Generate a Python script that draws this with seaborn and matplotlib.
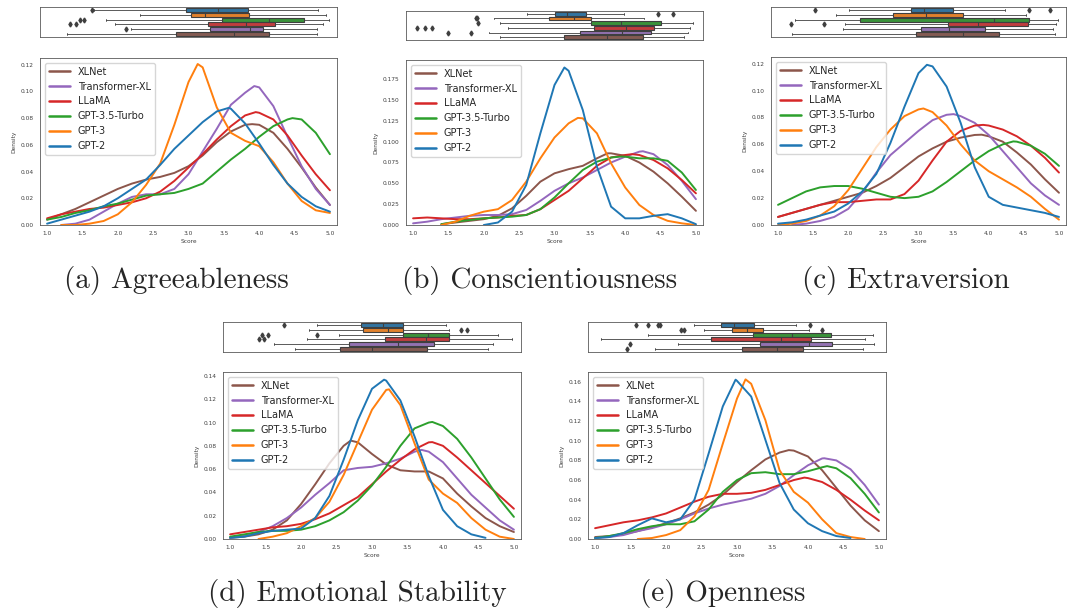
import matplotlib
matplotlib.use('Agg')
import matplotlib.pyplot as plt
import seaborn as sns
import pandas as pd

# models, in legend order and in box (top to bottom) order
MODELS = ['XLNet', 'Transformer-XL', 'LLaMA', 'GPT-3.5-Turbo', 'GPT-3', 'GPT-2']
BOX_ORDER = ['GPT-2', 'GPT-3', 'GPT-3.5-Turbo', 'LLaMA', 'Transformer-XL', 'XLNet']
TRAITS = ['Agreeableness', 'Conscientiousness', 'Extraversion', 'Emotional Stability', 'Openness']

SCORES = [1.0, 1.2, 1.4, 1.6, 1.8, 2.0, 2.2, 2.4, 2.6, 2.8, 3.0,
          3.2, 3.4, 3.6, 3.8, 4.0, 4.2, 4.4, 4.6, 4.8, 5.0]

#region density values (None = curve not drawn there)

AGR_DENSITY = {
  'XLNet':          [.004, .008, .012, .017, .022, .027, .031, .034, .036, .039, .044, .052, .062, .070, .075, .075, .069, .057, .043, .028, .015],
  'Transformer-XL': [None, .000, .001, .004, .010, .016, .021, .023, .023, .027, .038, .055, .072, .090, .099, .103, .089, .066, .044, .027, .015],
  'LLaMA':          [.005, .008, .010, .012, .013, .015, .017, .020, .025, .033, .043, .053, .064, .074, .082, .084, .079, .067, .052, .038, .026],
  'GPT-3.5-Turbo':  [.004, .006, .009, .011, .014, .016, .019, .022, .023, .024, .027, .031, .040, .049, .057, .066, .074, .079, .079, .069, .053],
  'GPT-3':          [None, .000, .000, .001, .003, .008, .017, .030, .046, .075, .107, .118, .088, .069, .063, .059, .047, .031, .018, .011, .009],
  'GPT-2':          [.001, .004, .007, .010, .014, .020, .027, .034, .045, .057, .067, .077, .085, .087, .076, .061, .045, .031, .021, .014, .010],
}
AGR_PEAKS = {'XLNet': (3.9, .0755), 'Transformer-XL': (3.93, .104), 'LLaMA': (3.95, .0845),
             'GPT-3.5-Turbo': (4.47, .080), 'GPT-3': (3.13, .1205), 'GPT-2': (3.57, .0877)}

CON_DENSITY = {
  'XLNet':          [None, None, .001, .003, .005, .007, .011, .020, .035, .052, .062, .067, .071, .080, .086, .083, .075, .064, .050, .034, .017],
  'Transformer-XL': [.002, .004, .007, .009, .011, .012, .012, .013, .018, .029, .041, .050, .057, .066, .075, .082, .088, .085, .072, .053, .031],
  'LLaMA':          [.008, .009, .008, .007, .007, .008, .009, .011, .012, .019, .030, .041, .056, .071, .081, .084, .084, .078, .068, .054, .038],
  'GPT-3.5-Turbo':  [None, None, .001, .004, .006, .008, .009, .010, .012, .019, .033, .050, .066, .076, .081, .082, .080, .080, .077, .063, .042],
  'GPT-3':          [None, None, .000, .004, .011, .016, .019, .030, .052, .080, .105, .122, .128, .110, .074, .045, .024, .012, .005, .002, .000],
  'GPT-2':          [None, None, None, None, None, .000, .003, .016, .048, .110, .168, .185, .138, .070, .022, .008, .008, .011, .013, .008, .001],
}
CON_PEAKS = {'XLNet': (3.75, .086), 'Transformer-XL': (4.25, .0885), 'LLaMA': (4.1, .085),
             'GPT-3.5-Turbo': (3.95, .0822), 'GPT-3': (3.33, .1285), 'GPT-2': (3.14, .189)}

EXT_DENSITY = {
  'XLNet':          [.006, .009, .012, .015, .018, .021, .024, .029, .035, .043, .051, .057, .062, .065, .067, .066, .062, .054, .045, .034, .024],
  'Transformer-XL': [None, .000, .001, .003, .006, .012, .024, .039, .052, .061, .070, .078, .082, .081, .076, .067, .055, .043, .031, .022, .015],
  'LLaMA':          [.006, .009, .012, .015, .017, .017, .018, .019, .019, .023, .033, .048, .062, .070, .074, .074, .071, .066, .059, .050, .039],
  'GPT-3.5-Turbo':  [.015, .020, .025, .028, .029, .029, .027, .024, .021, .020, .021, .025, .032, .040, .048, .055, .060, .062, .059, .053, .044],
  'GPT-3':          [.000, .001, .003, .007, .014, .026, .042, .058, .071, .081, .086, .084, .074, .060, .048, .040, .034, .028, .021, .012, .004],
  'GPT-2':          [.001, .002, .004, .007, .010, .016, .025, .038, .061, .088, .113, .118, .103, .076, .043, .021, .015, .013, .011, .009, .006],
}
EXT_PEAKS = {'XLNet': (3.9, .0672), 'Transformer-XL': (3.5, .0825), 'LLaMA': (3.92, .0745),
             'GPT-3.5-Turbo': (4.35, .0622), 'GPT-3': (3.07, .0867), 'GPT-2': (3.12, .1192)}

EMO_DENSITY = {
  'XLNet':          [.001, .002, .004, .008, .016, .030, .047, .065, .080, .083, .073, .064, .059, .058, .058, .052, .039, .028, .018, .011, .006],
  'Transformer-XL': [.001, .003, .006, .011, .018, .027, .038, .048, .059, .061, .062, .065, .069, .075, .075, .066, .052, .038, .027, .016, .008],
  'LLaMA':          [.004, .006, .008, .010, .011, .013, .017, .022, .029, .036, .047, .058, .068, .077, .083, .080, .070, .059, .048, .037, .026],
  'GPT-3.5-Turbo':  [.002, .004, .006, .007, .007, .008, .011, .016, .023, .033, .046, .062, .080, .095, .100, .097, .086, .070, .052, .034, .019],
  'GPT-3':          [None, None, .000, .002, .005, .011, .018, .032, .055, .083, .111, .128, .115, .082, .051, .039, .031, .018, .008, .002, .000],
  'GPT-2':          [.001, .002, .005, .007, .008, .009, .018, .037, .068, .102, .129, .136, .119, .088, .054, .025, .011, .004, .001, None, None],
}
EMO_PEAKS = {'XLNet': (2.7, .0845), 'Transformer-XL': (3.7, .0765), 'LLaMA': (3.85, .0832),
             'GPT-3.5-Turbo': (3.85, .1005), 'GPT-3': (3.24, .1285), 'GPT-2': (3.17, .1368)}

OPE_DENSITY = {
  'XLNet':          [.002, .003, .005, .008, .012, .016, .021, .027, .035, .045, .058, .070, .081, .088, .090, .084, .070, .052, .034, .019, .008],
  'Transformer-XL': [.001, .002, .004, .008, .011, .015, .020, .026, .031, .035, .038, .041, .046, .054, .065, .075, .082, .080, .071, .055, .035],
  'LLaMA':          [.011, .014, .017, .019, .022, .026, .032, .038, .043, .046, .046, .047, .050, .055, .060, .062, .058, .050, .040, .029, .019],
  'GPT-3.5-Turbo':  [.001, .003, .006, .010, .013, .015, .015, .018, .030, .048, .060, .067, .068, .066, .066, .069, .073, .072, .062, .046, .027],
  'GPT-3':          [None, None, None, .000, .001, .004, .009, .023, .050, .097, .143, .158, .121, .070, .048, .037, .020, .006, .002, .000, None],
  'GPT-2':          [.001, .002, .006, .014, .021, .017, .020, .040, .087, .135, .161, .145, .101, .057, .030, .016, .008, .003, .001, None, None],
}
OPE_PEAKS = {'XLNet': (3.73, .0905), 'Transformer-XL': (4.23, .0822), 'LLaMA': (3.95, .0625),
             'GPT-3.5-Turbo': (4.27, .0742), 'GPT-3': (3.12, .1625), 'GPT-2': (2.98, .1622)}

#endregion

#region box plot summaries: [whisker low, q1, median, q3, whisker high], rows in BOX_ORDER

AGR_BOX = [[1.66, 2.97, 3.42, 3.84, 4.83], [2.32, 3.04, 3.24, 3.86, 4.94], [1.84, 3.48, 4.14, 4.64, 4.98],
           [1.96, 3.28, 3.82, 4.23, 4.90], [2.19, 3.31, 3.87, 4.06, 4.82], [1.28, 2.83, 3.65, 4.14, 4.82]]
AGR_FLIERS = [[1.63], [], [1.47, 1.52], [1.32, 1.41], [2.11], []]

CON_BOX = [[2.61, 3.01, 3.17, 3.45, 3.98], [2.15, 2.92, 3.27, 3.52, 4.26], [2.23, 3.51, 3.94, 4.51, 4.96],
           [2.34, 3.56, 4.01, 4.41, 4.91], [2.08, 3.36, 3.96, 4.36, 4.89], [2.23, 3.14, 3.74, 4.25, 4.83]]
CON_FLIERS = [[4.47, 4.67], [1.89, 1.90], [1.92], [1.05, 1.17, 1.27], [1.50, 1.82], []]

EXT_BOX = [[2.01, 2.90, 3.08, 3.49, 4.23], [1.83, 2.63, 3.11, 3.64, 4.53], [1.24, 2.17, 4.07, 4.58, 4.98],
           [1.95, 3.42, 3.85, 4.56, 4.96], [1.92, 3.04, 3.44, 3.95, 4.91], [1.20, 2.96, 3.63, 4.15, 4.94]]
EXT_FLIERS = [[1.53, 4.58, 4.87], [], [], [1.19, 1.65], [], []]

EMO_BOX = [[2.23, 2.85, 3.15, 3.44, 4.04], [2.11, 2.87, 3.22, 3.43, 4.08], [2.53, 3.44, 3.79, 4.09, 4.77],
           [2.09, 3.19, 3.76, 4.08, 4.97], [1.62, 2.67, 3.36, 3.88, 4.71], [1.92, 2.55, 3.00, 3.78, 4.64]]
EMO_FLIERS = [[1.76], [4.26, 4.34], [1.45, 1.53, 2.22], [1.41, 1.48], [], []]

OPE_BOX = [[2.39, 2.78, 2.96, 3.24, 3.83], [2.53, 2.93, 3.14, 3.36, 4.01], [1.74, 3.22, 3.78, 4.32, 4.91],
           [1.09, 2.63, 3.62, 4.04, 4.81], [2.17, 3.32, 4.01, 4.34, 4.93], [1.85, 3.07, 3.56, 3.93, 4.77]]
OPE_FLIERS = [[1.58, 1.74, 1.88, 1.92, 4.03], [2.21, 2.26, 4.20], [], [], [1.49], [1.45]]

#endregion

PALETTE = dict(zip(BOX_ORDER, sns.color_palette('tab10', 6)))
BOX_GRAY = '#3f3f3f'

W, H = 1069, 614

# pixel rectangles (left, top, right, bottom) of every panel
PANELS = [
  # density, peaks, box, fliers, y max, y step, box rect, kde rect, caption centre
  (AGR_DENSITY, AGR_PEAKS, AGR_BOX, AGR_FLIERS, 0.125, 0.02, (40, 7, 337, 37), (40, 58, 337, 225), (176, 288)),
  (CON_DENSITY, CON_PEAKS, CON_BOX, CON_FLIERS, 0.198, 0.025, (406, 11, 703, 40), (406, 60, 703, 225), (540, 288)),
  (EXT_DENSITY, EXT_PEAKS, EXT_BOX, EXT_FLIERS, 0.125, 0.02, (771, 7, 1066, 37), (771, 57, 1066, 225), (906, 288)),
  (EMO_DENSITY, EMO_PEAKS, EMO_BOX, EMO_FLIERS, 0.1434, 0.02, (223, 322, 521, 352), (223, 372, 521, 539), (357, 601)),
  (OPE_DENSITY, OPE_PEAKS, OPE_BOX, OPE_FLIERS, 0.170, 0.02, (588, 322, 886, 352), (588, 372, 886, 539), (723, 601)),
]

def px_axes(fig, rect):
  x0, y0, x1, y1 = rect
  return fig.add_axes([x0 / W, 1 - y1 / H, (x1 - x0) / W, (y1 - y0) / H])

def style_axes(ax):
  for spine in ax.spines.values():
    spine.set_color('0.35')
    spine.set_linewidth(0.6)
  ax.tick_params(labelsize=4.2, length=2.5, width=0.5, pad=2, color='0.35', labelcolor='0.25')
  ax.set_xlim(0.9, 5.1)
  ax.set_xticks([1.0, 1.5, 2.0, 2.5, 3.0, 3.5, 4.0, 4.5, 5.0])

# box plot from summary values
def plot_box(ax, box, fliers):
  stats = []
  for name, (lo, q1, med, q3, hi), fl in zip(BOX_ORDER, box, fliers):
    stats.append({'whislo': lo, 'q1': q1, 'med': med, 'q3': q3, 'whishi': hi, 'fliers': fl, 'label': name})
  parts = ax.bxp(
    stats, positions = range(6), widths = 0.8, orientation = 'horizontal', patch_artist = True,
    boxprops = dict(edgecolor = BOX_GRAY, linewidth = 0.8),
    medianprops = dict(color = BOX_GRAY, linewidth = 0.8),
    whiskerprops = dict(color = BOX_GRAY, linewidth = 0.6),
    capprops = dict(color = BOX_GRAY, linewidth = 0.6),
    flierprops = dict(marker = 'd', markersize = 2.5, markerfacecolor = BOX_GRAY, markeredgecolor = BOX_GRAY)
  )
  for patch, name in zip(parts['boxes'], BOX_ORDER):
    patch.set_facecolor(sns.desaturate(PALETTE[name], 0.75))
  style_axes(ax)
  ax.set_ylim(5.6, -0.6)
  ax.set_yticks(range(6))
  ax.set_yticklabels([])
  ax.set_xticklabels([])
  ax.tick_params(axis = 'y', length = 1.5)

# density curves: grid values plus the read-off peak of each curve
def plot_density(ax, density, peaks, ymax, ystep):
  rows = []
  for model in MODELS:
    for score, value in zip(SCORES, density[model]):
      if value is not None:
        rows.append({'Score': score, 'Density': value, 'model': model})
    px, py = peaks[model]
    rows.append({'Score': px, 'Density': py, 'model': model})
  df = pd.DataFrame(rows).sort_values(['model', 'Score'])
  sns.lineplot(data = df, x = 'Score', y = 'Density', hue = 'model', hue_order = MODELS,
               palette = PALETTE, linewidth = 1.4, errorbar = None, ax = ax)
  style_axes(ax)
  ax.set_ylim(0, ymax)
  ticks = []
  t = 0.0
  while t <= ymax + 1e-9:
    ticks.append(round(t, 3))
    t += ystep
  ax.set_yticks(ticks)
  ax.set_xlabel('Score', fontsize = 4.2, labelpad = 2, color = '0.25')
  ax.set_ylabel('Density', fontsize = 4.2, labelpad = 3, color = '0.25')
  sns.move_legend(ax, 'upper left', title = None, fontsize = 7, handlelength = 2.2,
                  labelspacing = 0.5, borderaxespad = 0.5, frameon = True)
  for line in ax.get_legend().get_lines():
    line.set_linewidth(1.8)

sns.set_style('white')
fig = plt.figure(figsize = (W / 100, H / 100), dpi = 100)

for (density, peaks, box, fliers, ymax, ystep, box_rect, kde_rect, cap), trait, letter in zip(PANELS, TRAITS, 'abcde'):
  plot_box(px_axes(fig, box_rect), box, fliers)
  plot_density(px_axes(fig, kde_rect), density, peaks, ymax, ystep)
  fig.text(cap[0] / W, 1 - cap[1] / H, f'({letter}) {trait}', fontfamily = 'cmr10',
           fontsize = 21, ha = 'center', va = 'baseline')

fig.savefig('out.png', dpi = 100, facecolor = 'white')
